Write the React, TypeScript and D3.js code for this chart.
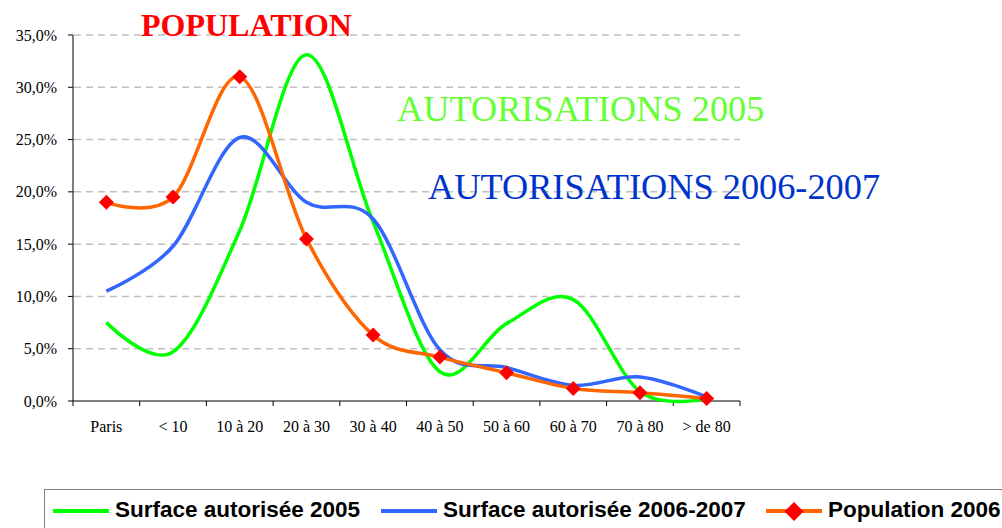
import * as d3 from 'd3';

const categories = ['Paris', '< 10', '10 à 20', '20 à 30', '30 à 40', '40 à 50', '50 à 60', '60 à 70', '70 à 80', '> de 80'];
const surface2005 = [7.5, 4.7, 16.3, 33.1, 17.1, 2.8, 7.4, 9.7, 0.9, 0.2];
const surface2006 = [10.5, 14.8, 25.2, 19.0, 17.4, 4.9, 3.2, 1.5, 2.3, 0.4];
const population = [19.0, 19.5, 31.0, 15.5, 6.3, 4.2, 2.7, 1.2, 0.8, 0.25];
const yTicks = [0, 5, 10, 15, 20, 25, 30, 35];
const legendLabels = ['Surface autorisée 2005', 'Surface autorisée 2006-2007', 'Population 2006'];

const W = 1002;
const H = 528;
const serif = '"Liberation Serif", "Times New Roman", serif';
const sans = '"Liberation Sans", Arial, sans-serif';

const GREEN = '#00ff00';
const BLUE = '#3366ff';
const ORANGE = '#ff6600';
const RED = '#ff0000';

function Diamond({ cx, cy, r }: { cx: number; cy: number; r: number }) {
  return <path d={`M${cx},${cy - r}L${cx + r},${cy}L${cx},${cy + r}L${cx - r},${cy}Z`} fill={RED} />;
}

export default function App() {
  const x = d3.scaleBand<string>().domain(categories).range([73, 740]);
  const y = d3.scaleLinear().domain([0, 35]).range([401, 35]);
  const cx = (c: string) => (x(c) ?? 0) + x.bandwidth() / 2;

  const line = d3
    .line<number>()
    .x((_, i) => cx(categories[i]))
    .y((d) => y(d))
    .curve(d3.curveCardinal.tension(0));

  const series = [
    { values: surface2005, color: GREEN },
    { values: surface2006, color: BLUE },
    { values: population, color: ORANGE },
  ];

  // band edges for x ticks
  const xEdges = categories.map((c) => x(c) ?? 0).concat([740]);

  const legendItems = [
    { label: legendLabels[0], color: GREEN, x0: 53, marker: false },
    { label: legendLabels[1], color: BLUE, x0: 381, marker: false },
    { label: legendLabels[2], color: ORANGE, x0: 766, marker: true },
  ];

  return (
    <svg width={W} height={H} style={{ position: 'absolute', left: 0, top: 0, background: '#fff' }}>
      {/* gridlines */}
      {yTicks.filter((t) => t > 0).map((t) => (
        <line key={t} x1={74} x2={740} y1={y(t)} y2={y(t)} stroke="#c0c0c0" strokeWidth={1.5} strokeDasharray="7,5" />
      ))}

      {/* titles */}
      <text x={141} y={36} fontFamily={serif} fontWeight="bold" fontSize={32} fill={RED}>POPULATION</text>
      <text x={397} y={120.5} fontFamily={serif} fontSize={36.3} fill="#66ff33">AUTORISATIONS 2005</text>
      <text x={428} y={199} fontFamily={serif} fontSize={36.3} fill="#0033cc">AUTORISATIONS 2006-2007</text>

      {/* y axis */}
      <line x1={73} x2={73} y1={y(35)} y2={y(0)} stroke="#000" strokeWidth={1} />
      {yTicks.map((t) => (
        <g key={t}>
          <line x1={68} x2={73} y1={y(t)} y2={y(t)} stroke="#000" />
          <text x={57} y={y(t)} dy="0.35em" textAnchor="end" fontFamily={serif} fontSize={16} fill="#000">
            {d3.format('.1f')(t).replace('.', ',') + '%'}
          </text>
        </g>
      ))}

      {/* x axis */}
      <line x1={73} x2={740} y1={y(0)} y2={y(0)} stroke="#000" />
      {xEdges.map((e, i) => (
        <line key={i} x1={e} x2={e} y1={y(0)} y2={y(0) + 5} stroke="#000" />
      ))}
      {categories.map((c) => (
        <text key={c} x={cx(c)} y={432} textAnchor="middle" fontFamily={serif} fontSize={16} fill="#000">{c}</text>
      ))}

      {/* series */}
      {series.map((s, i) => (
        <path key={i} d={line(s.values) ?? ''} fill="none" stroke={s.color} strokeWidth={3.5} strokeLinejoin="round" />
      ))}
      {population.map((v, i) => (
        <Diamond key={i} cx={cx(categories[i])} cy={y(v)} r={7.5} />
      ))}

      {/* legend */}
      <rect x={44.5} y={489.5} width={1000} height={60} fill="#fff" stroke="#808080" strokeWidth={1} />
      {legendItems.map((it) => (
        <g key={it.label}>
          <line x1={it.x0} x2={it.x0 + 56} y1={511} y2={511} stroke={it.color} strokeWidth={4} />
          {it.marker && <Diamond cx={it.x0 + 28} cy={511.5} r={9.5} />}
          <text x={it.x0 + 62} y={516.5} fontFamily={sans} fontWeight="bold" fontSize={22.5} fill="#000">{it.label}</text>
        </g>
      ))}
    </svg>
  );
}
